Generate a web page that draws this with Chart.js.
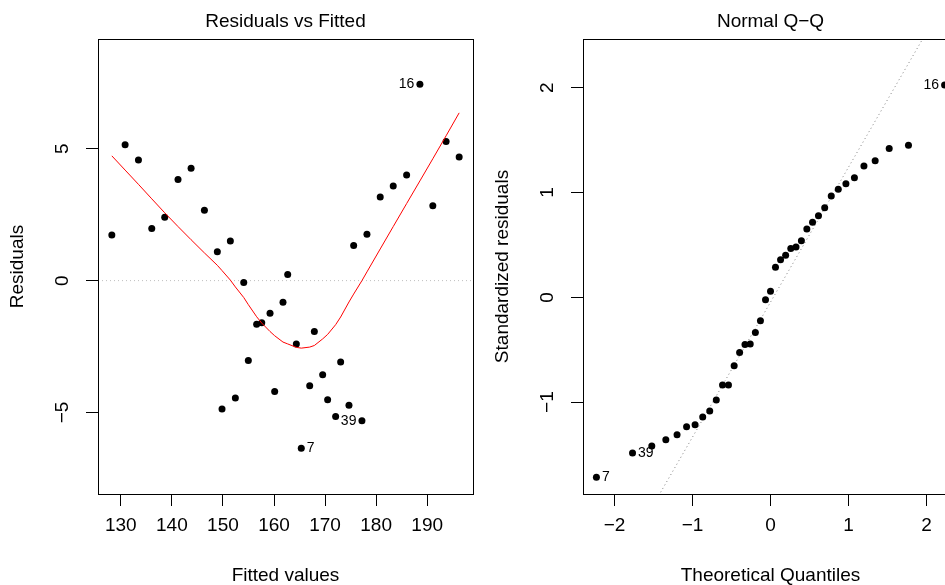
<!DOCTYPE html>
<html>
<head>
<meta charset="utf-8">
<script src="https://cdn.jsdelivr.net/npm/chart.js@4.4.0/dist/chart.umd.min.js"></script>
<style>
  html, body { margin: 0; padding: 0; background: #fff; overflow: hidden; }
  #wrap { position: relative; width: 945px; height: 585px; overflow: hidden; }
  canvas { position: absolute; top: 0; }
  #resFit { left: 0; }
  #qq { left: 485px; }
</style>
</head>
<body>
<div id="wrap">
  <canvas id="resFit" width="485" height="585"></canvas>
  <canvas id="qq" width="485" height="585"></canvas>
</div>
<script>
// Residuals vs Fitted, points sorted by fitted value
const fittedVals = [128.24, 130.84, 133.45, 136.06, 138.6, 141.2, 143.76, 146.37, 148.9, 149.82,
  151.45, 152.43, 154.07, 154.97, 156.6, 157.6, 159.22, 160.13, 161.76, 162.68,
  164.37, 165.34, 166.99, 167.9, 169.53, 170.5, 172.07, 173.05, 174.68, 175.6,
  177.22, 178.2, 180.8, 183.35, 185.97, 188.57, 191.1, 193.7, 196.26];
const residVals = [1.73, 5.15, 4.57, 1.98, 2.40, 3.83, 4.26, 2.67, 1.09, -4.87,
  1.50, -4.45, -0.07, -3.03, -1.65, -1.60, -1.24, -4.20, -0.82, 0.23,
  -2.40, -6.36, -3.99, -1.93, -3.57, -4.52, -5.15, -3.09, -4.73, 1.33,
  -5.31, 1.76, 3.17, 3.59, 4.00, 7.44, 2.84, 5.27, 4.69];
// smoother, evaluated at fittedVals
const smoothVals = [4.73, 4.19, 3.65, 3.10, 2.57, 2.05, 1.55, 1.05, 0.58, 0.38,
  0.02, -0.24, -0.64, -0.91, -1.37, -1.61, -1.93, -2.09, -2.33, -2.40,
  -2.53, -2.56, -2.52, -2.46, -2.21, -2.04, -1.67, -1.38, -0.81, -0.51,
  0.0, 0.33, 1.20, 2.05, 2.92, 3.78, 4.62, 5.49, 6.36];
const resXTicks = [130, 140, 150, 160, 170, 180, 190];
const resYTicks = [-5, 0, 5];
const resXRange = [125.53, 198.97];
const resYRange = [-8.09, 9.16];
const resLabelIdx = [35, 30, 21];
const resLabelText = ['16', '39', '7'];

// Normal Q-Q
const theoQuant = [-2.232, -1.769, -1.522, -1.342, -1.198, -1.076, -0.967, -0.869, -0.779, -0.695,
  -0.615, -0.539, -0.466, -0.396, -0.327, -0.260, -0.194, -0.129, -0.064, 0,
  0.064, 0.129, 0.194, 0.260, 0.327, 0.396, 0.466, 0.539, 0.615, 0.695,
  0.779, 0.869, 0.967, 1.076, 1.198, 1.342, 1.522, 1.769, 2.232];
const stdResid = [-1.718, -1.486, -1.419, -1.358, -1.311, -1.234, -1.215, -1.142, -1.085, -0.980,
  -0.837, -0.837, -0.653, -0.526, -0.450, -0.446, -0.335, -0.224, -0.024, 0.059,
  0.288, 0.360, 0.403, 0.467, 0.480, 0.540, 0.653, 0.717, 0.780, 0.856,
  0.968, 1.031, 1.085, 1.142, 1.254, 1.304, 1.422, 1.451, 2.026];
const qqXTicks = [-2, -1, 0, 1, 2];
const qqYTicks = [-1, 0, 1, 2];
const qqXRange = [-2.404, 2.404];
const qqYRange = [-1.877, 2.466];
const qqIntercept = -0.046;
const qqSlope = 1.288;
const qqLabelIdx = [38, 1, 0];
const qqLabelText = ['16', '39', '7'];

const FONT = '"Liberation Sans", Arial, Helvetica, sans-serif';
Chart.defaults.font.family = FONT;
Chart.defaults.color = '#000';

const minus = v => String(v).replace('-', '\u2212');

// frame round the plot region
const boxPlugin = {
  id: 'box',
  afterDatasetsDraw(chart) {
    const a = chart.chartArea, ctx = chart.ctx;
    ctx.save();
    ctx.strokeStyle = '#000';
    ctx.lineWidth = 1;
    ctx.strokeRect(Math.floor(a.left) + 0.5, Math.floor(a.top) + 0.5, Math.round(a.width), Math.round(a.height));
    ctx.restore();
  }
};

function panelTitle(text) {
  return {
    id: 'panelTitle',
    afterDraw(chart) {
      const a = chart.chartArea, ctx = chart.ctx;
      ctx.save();
      ctx.font = '19px ' + FONT;
      ctx.fillStyle = '#000';
      ctx.textAlign = 'center';
      ctx.textBaseline = 'alphabetic';
      ctx.fillText(text, (a.left + a.right) / 2, 27);
      ctx.restore();
    }
  };
}

// id labels next to the extreme points, side picked like R does
function pointLabels(idx, texts) {
  return {
    id: 'pointLabels',
    afterDatasetsDraw(chart) {
      const meta = chart.getDatasetMeta(0);
      const xs = idx.map(i => meta.data[i].x);
      const mid = (Math.min(...xs) + Math.max(...xs)) / 2;
      const ctx = chart.ctx;
      ctx.save();
      ctx.font = '14px ' + FONT;
      ctx.fillStyle = '#000';
      ctx.textBaseline = 'middle';
      idx.forEach((i, k) => {
        const el = meta.data[i];
        const onLeft = el.x > mid;
        ctx.textAlign = onLeft ? 'right' : 'left';
        ctx.fillText(texts[k], el.x + (onLeft ? -5.5 : 5.5), el.y);
      });
      ctx.restore();
    }
  };
}

// natural height: 12 tick + 8 pad + 22.8 labels + 19 title + 29.2 title pad = 91
function xAxis(range, tickVals, title) {
  return {
    type: 'linear', position: 'bottom', min: range[0], max: range[1],
    afterBuildTicks: s => { s.ticks = tickVals.map(v => ({ value: v })); },
    afterFit: s => { s.height = 91; },
    grid: { drawOnChartArea: false, drawTicks: true, tickLength: 12, color: '#000', lineWidth: 1 },
    border: { display: false },
    ticks: { autoSkip: false, maxRotation: 0, minRotation: 0, padding: 8, font: { size: 19, lineHeight: 1.2 }, callback: minus },
    title: { display: true, text: title, font: { size: 19, lineHeight: 1 }, padding: { top: 29.2, bottom: 0 } }
  };
}

function yAxis(range, tickVals, title) {
  return {
    type: 'linear', position: 'left', min: range[0], max: range[1],
    afterBuildTicks: s => { s.ticks = tickVals.map(v => ({ value: v })); },
    afterFit: s => { s.width = 98; },
    grid: { drawOnChartArea: false, drawTicks: true, tickLength: 12, color: '#000', lineWidth: 1 },
    border: { display: false },
    ticks: { autoSkip: false, minRotation: 90, maxRotation: 90, crossAlign: 'center', padding: 12, font: { size: 19 }, callback: minus },
    title: { display: true, text: title, font: { size: 19, lineHeight: 1 }, padding: { top: 8.5, bottom: 0 } }
  };
}

function baseOptions(xs, ys) {
  return {
    responsive: false,
    animation: false,
    events: [],
    layout: { padding: { top: 39, right: 12, left: 0, bottom: 0 } },
    plugins: { legend: { display: false }, tooltip: { enabled: false } },
    scales: { x: xs, y: ys }
  };
}

new Chart(document.getElementById('resFit'), {
  type: 'scatter',
  data: {
    datasets: [
      {
        data: fittedVals.map((x, i) => ({ x, y: residVals[i] })),
        pointRadius: 3.5, backgroundColor: '#000', borderWidth: 0, order: 2
      },
      {
        type: 'line',
        data: fittedVals.map((x, i) => ({ x, y: smoothVals[i] })),
        borderColor: '#ff0000', borderWidth: 1, pointRadius: 0, fill: false, tension: 0, order: 1
      },
      {
        type: 'line',
        data: [{ x: resXRange[0], y: 0 }, { x: resXRange[1], y: 0 }],
        borderColor: '#bebebe', borderWidth: 1, borderDash: [1, 3], pointRadius: 0, fill: false, order: 3
      }
    ]
  },
  options: baseOptions(
    xAxis(resXRange, resXTicks, 'Fitted values'),
    yAxis(resYRange, resYTicks, 'Residuals')
  ),
  plugins: [boxPlugin, panelTitle('Residuals vs Fitted'), pointLabels(resLabelIdx, resLabelText)]
});

new Chart(document.getElementById('qq'), {
  type: 'scatter',
  data: {
    datasets: [
      {
        data: theoQuant.map((x, i) => ({ x, y: stdResid[i] })),
        pointRadius: 3.5, backgroundColor: '#000', borderWidth: 0, order: 1
      },
      {
        type: 'line',
        data: [-3, 3].map(x => ({ x, y: qqIntercept + qqSlope * x })),
        borderColor: '#7f7f7f', borderWidth: 1, borderDash: [1, 3], pointRadius: 0, fill: false, order: 2
      }
    ]
  },
  options: baseOptions(
    xAxis(qqXRange, qqXTicks, 'Theoretical Quantiles'),
    yAxis(qqYRange, qqYTicks, 'Standardized residuals')
  ),
  plugins: [boxPlugin, panelTitle('Normal Q\u2212Q'), pointLabels(qqLabelIdx, qqLabelText)]
});
</script>
</body>
</html>
